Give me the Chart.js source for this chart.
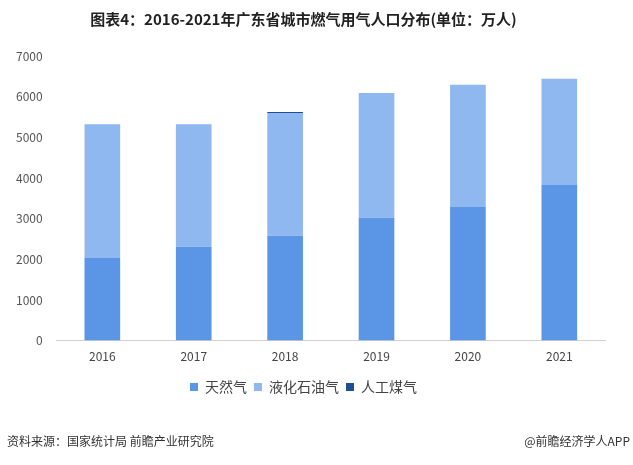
<!DOCTYPE html>
<html>
<head>
<meta charset="utf-8">
<script src="https://cdn.jsdelivr.net/npm/chart.js@4/dist/chart.umd.min.js"></script>
<style>
  html, body { margin: 0; padding: 0; background: #fff; }
  #wrap { position: relative; width: 633px; height: 465px; }
</style>
</head>
<body>
<div id="wrap"><canvas id="gasChart" width="633" height="465"></canvas></div>
<script>
// data (万人)
const years = ['2016', '2017', '2018', '2019', '2020', '2021'];
const naturalGas = [2030, 2310, 2580, 3020, 3300, 3840];
const lpg = [3290, 3010, 3020, 3070, 2990, 2600];
const cokeGas = [0, 0, 25, 0, 0, 0];
const yTicks = [0, 1000, 2000, 3000, 4000, 5000, 6000, 7000];

const font = '"Microsoft YaHei", "Noto Sans CJK SC", sans-serif';

// footer line: source on the left, account on the right
const footerPlugin = {
    id: 'footerText',
    afterDraw(chart) {
        const ctx = chart.ctx;
        ctx.save();
        ctx.font = '12px ' + font;
        ctx.fillStyle = '#333';
        ctx.textBaseline = 'middle';
        ctx.textAlign = 'left';
        ctx.fillText('资料来源：国家统计局 前瞻产业研究院', 7, 441);
        ctx.textAlign = 'right';
        ctx.fillText('@前瞻经济学人APP', 630, 441);
        ctx.restore();
    }
};

const ctx = document.getElementById('gasChart').getContext('2d');
const gasChart = new Chart(ctx, {
    type: 'bar',
    data: {
        labels: years,
        datasets: [
            { label: '天然气', data: naturalGas, backgroundColor: '#5b95e5' },
            { label: '液化石油气', data: lpg, backgroundColor: '#8fb8f0' },
            { label: '人工煤气', data: cokeGas, backgroundColor: '#1f4e99' }
        ]
    },
    options: {
        responsive: false,
        animation: false,
        layout: { padding: { left: 2, right: 28, top: 4, bottom: 61 } },
        datasets: { bar: { categoryPercentage: 0.78, barPercentage: 0.5 } },
        plugins: {
            title: {
                display: true,
                text: '图表4：2016-2021年广东省城市燃气用气人口分布(单位：万人)',
                color: '#222',
                font: { family: font, size: 15, weight: 'bold' },
                padding: { top: 6, bottom: 28 }
            },
            legend: {
                position: 'bottom',
                labels: {
                    boxWidth: 8,
                    boxHeight: 8,
                    color: '#444',
                    padding: 7,
                    font: { family: font, size: 14 }
                }
            },
            tooltip: { enabled: false }
        },
        scales: {
            x: {
                stacked: true,
                grid: { display: false, drawTicks: false },
                border: { color: '#d0d0d0' },
                ticks: { color: '#444', padding: 9, font: { family: font, size: 12 } }
            },
            y: {
                stacked: true,
                min: 0,
                max: 7000,
                afterBuildTicks(axis) { axis.ticks = yTicks.map(v => ({ value: v })); },
                grid: { display: false, drawTicks: false },
                border: { display: false },
                ticks: {
                    color: '#555',
                    padding: 14,
                    font: { family: font, size: 12 },
                    callback: v => String(v)
                }
            }
        }
    },
    plugins: [footerPlugin]
});
</script>
</body>
</html>
